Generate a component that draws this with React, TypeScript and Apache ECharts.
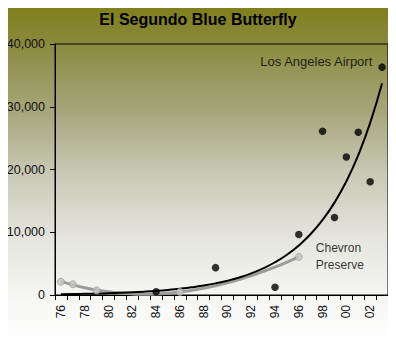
import React, { useEffect, useRef } from "react";
import * as echarts from "echarts";

const titleText = "El Segundo Blue Butterfly";
const years = [
  "1976", "1977", "1978", "1979", "1980", "1981", "1982", "1983", "1984", "1985",
  "1986", "1987", "1988", "1989", "1990", "1991", "1992", "1993", "1994", "1995",
  "1996", "1997", "1998", "1999", "2000", "2001", "2002", "2003",
];
const yTicks = [0, 10000, 20000, 30000, 40000];

const laxYears = ["1984", "1989", "1994", "1996", "1998", "1999", "2000", "2001", "2002", "2003"];
const laxCounts = [530, 4360, 1230, 9630, 26090, 12350, 22000, 25930, 18050, 36310];
const laxLabel = "Los Angeles Airport";

const chevronYears = ["1976", "1977", "1979", "1986", "1996"];
const chevronCounts = [2120, 1700, 750, 480, 6070];
const chevronLabel = "Chevron\nPreserve";

// least-squares exponential trend (fit of ln y)
function expFit(xs: number[], ys: number[]) {
  const n = xs.length;
  const ly = ys.map((v) => Math.log(v));
  const mx = xs.reduce((a, b) => a + b, 0) / n;
  const my = ly.reduce((a, b) => a + b, 0) / n;
  let sxx = 0, sxy = 0;
  for (let i = 0; i < n; i++) {
    sxx += (xs[i] - mx) ** 2;
    sxy += (xs[i] - mx) * (ly[i] - my);
  }
  const b = sxy / sxx;
  const a = Math.exp(my - b * mx);
  return (x: number) => a * Math.exp(b * x);
}

// least-squares polynomial trend
function polyFit(xs: number[], ys: number[], order: number) {
  const m = order + 1;
  const A: number[][] = [];
  for (let r = 0; r < m; r++) {
    const row: number[] = [];
    for (let c = 0; c < m; c++) {
      let s = 0;
      for (let i = 0; i < xs.length; i++) s += Math.pow(xs[i], r + c);
      row.push(s);
    }
    let t = 0;
    for (let i = 0; i < xs.length; i++) t += Math.pow(xs[i], r) * ys[i];
    row.push(t);
    A.push(row);
  }
  for (let p = 0; p < m; p++) {
    let best = p;
    for (let r = p + 1; r < m; r++) if (Math.abs(A[r][p]) > Math.abs(A[best][p])) best = r;
    [A[p], A[best]] = [A[best], A[p]];
    for (let r = 0; r < m; r++) {
      if (r === p) continue;
      const f = A[r][p] / A[p][p];
      for (let c = p; c <= m; c++) A[r][c] -= f * A[p][c];
    }
  }
  const coef = A.map((row, i) => row[m] / row[i]);
  return (x: number) => coef.reduce((s, c, i) => s + c * Math.pow(x, i), 0);
}

const idx = (y: string) => years.indexOf(y);

export default function App() {
  const ref = useRef<HTMLDivElement>(null);
  useEffect(() => {
    if (!ref.current) return;
    const chart = echarts.init(ref.current, undefined, { renderer: "svg" });

    const laxTrendFn = expFit(laxYears.map(idx), laxCounts);
    const laxTrend = years.map((_, i) => laxTrendFn(i));
    const chevTrendFn = polyFit(chevronYears.map(idx), chevronCounts, 3);
    const lastChev = idx(chevronYears[chevronYears.length - 1]);
    const chevTrend = years.map((_, i) => (i <= lastChev ? chevTrendFn(i) : null));

    const font = "Arial, 'Liberation Sans', sans-serif";

    chart.setOption({
      animation: false,
      backgroundColor: new echarts.graphic.LinearGradient(0, 0, 0, 1, [
        { offset: 0, color: "#7d7d14" },
        { offset: 0.12, color: "#89893c" },
        { offset: 0.33, color: "#a7a77e" },
        { offset: 0.5, color: "#c8c8b4" },
        { offset: 0.7, color: "#e6e6e0" },
        { offset: 0.88, color: "#f7f7f5" },
        { offset: 1, color: "#ffffff" },
      ]),
      title: {
        text: titleText,
        left: "center",
        top: 6,
        textStyle: { fontFamily: font, fontSize: 16, fontWeight: "bold", color: "#000" },
      },
      grid: {
        left: 55,
        right: 8,
        top: 44,
        bottom: 49,
        show: true,
        borderColor: "#000",
        borderWidth: 1,
        backgroundColor: "transparent",
      },
      xAxis: {
        type: "category",
        data: years,
        boundaryGap: true,
        axisLine: { lineStyle: { color: "#000", width: 1 } },
        axisTick: { show: true, interval: 0, length: 5, lineStyle: { color: "#000" } },
        axisLabel: {
          interval: 1,
          rotate: 90,
          margin: 10,
          fontFamily: font,
          fontSize: 12,
          color: "#111",
          formatter: (v: string) => v.slice(2),
        },
        splitLine: { show: false },
      },
      yAxis: {
        type: "value",
        min: yTicks[0],
        max: yTicks[yTicks.length - 1],
        interval: yTicks[1] - yTicks[0],
        axisLine: { show: true, lineStyle: { color: "#000", width: 1 } },
        axisTick: { show: true, length: 5, lineStyle: { color: "#000" } },
        axisLabel: {
          margin: 10,
          fontFamily: font,
          fontSize: 12.5,
          color: "#111",
          formatter: (v: number) => v.toLocaleString("en-US"),
        },
        splitLine: { show: false },
      },
      series: [
        {
          type: "line",
          data: chevTrend,
          symbol: "none",
          smooth: true,
          clip: false,
          lineStyle: { color: "#9c9c9c", width: 3 },
          z: 2,
        },
        {
          type: "line",
          data: laxTrend,
          symbol: "none",
          smooth: true,
          lineStyle: { color: "#000", width: 2 },
          z: 3,
        },
        {
          type: "scatter",
          data: chevronYears.map((y, i) => ({
            value: [y, chevronCounts[i]],
            label:
              i === chevronYears.length - 1
                ? {
                    show: true,
                    position: "right",
                    distance: 13,
                    formatter: chevronLabel,
                    fontFamily: font,
                    fontSize: 12,
                    lineHeight: 17,
                    color: "#000",
                  }
                : { show: false },
          })),
          symbol: "circle",
          symbolSize: 7,
          itemStyle: { color: "#c4c4c4", borderColor: "#a0a0a0", borderWidth: 1 },
          z: 4,
        },
        {
          type: "scatter",
          data: laxYears.map((y, i) => ({
            value: [y, laxCounts[i]],
            label:
              i === laxYears.length - 1
                ? {
                    show: true,
                    position: "left",
                    distance: 6,
                    offset: [0, -6],
                    formatter: laxLabel,
                    fontFamily: font,
                    fontSize: 13,
                    color: "#000",
                  }
                : { show: false },
          })),
          symbol: "circle",
          symbolSize: 7.5,
          itemStyle: { color: "#000" },
          z: 5,
        },
      ],
    });
    return () => chart.dispose();
  }, []);
  return <div ref={ref} style={{ width: 396, height: 344, margin: -8 }} />;
}
